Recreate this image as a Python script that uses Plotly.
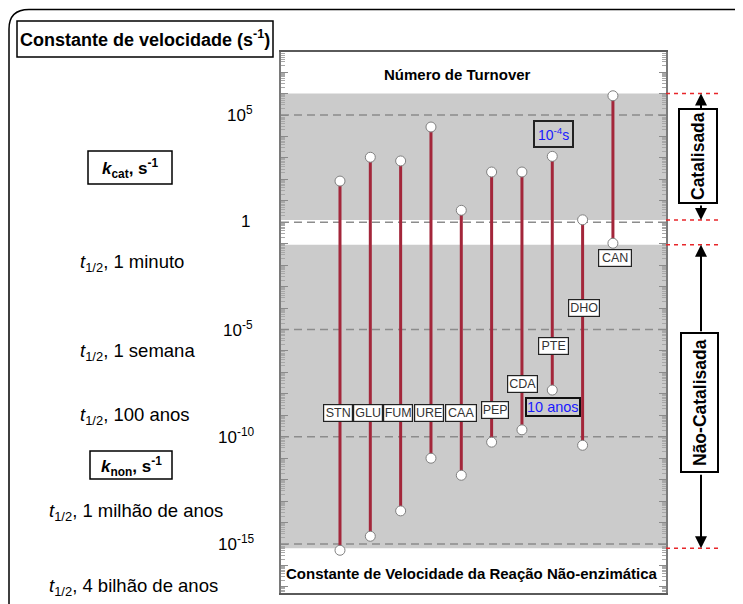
import math
import plotly.graph_objects as go

# ---------------- data ----------------
enzymes = ["STN", "GLU", "FUM", "URE", "CAA", "PEP", "CDA", "PTE", "DHO", "CAN"]
kcat = [83, 1070, 720, 27500, 3.6, 220, 220, 1180, 1.3, 7.9e5]          # s^-1
knon = [5.1e-16, 2.3e-15, 3.5e-14, 1.0e-11, 1.6e-12, 5.6e-11, 2.1e-10,
        1.5e-8, 4.0e-11, 0.105]                                           # s^-1
band_edges = [1.0e6, 1.26, 0.089, 6.3e-16]   # catalysed band top/bottom, uncatalysed top/bottom
tick_vals = [1e5, 1, 1e-5, 1e-10, 1e-15]
tick_text = ["10<sup>5</sup>", "1", "10<sup>-5</sup>", "10<sup>-10</sup>", "10<sup>-15</sup>"]
halflife_text = ["<i>t</i><sub>1/2</sub>, 1 minuto", "<i>t</i><sub>1/2</sub>, 1 semana",
                 "<i>t</i><sub>1/2</sub>, 100 anos", "<i>t</i><sub>1/2</sub>, 1 milhão de anos",
                 "<i>t</i><sub>1/2</sub>, 4 bilhão de anos"]

# ---------------- layout helpers ----------------
W, H = 743, 604
OFF = 8                     # page body margin of the html page
L, R, T, B = 281, 666, 52, 593   # plot area on screen
FONT = "Liberation Sans, Arial, Helvetica, sans-serif"


def px(x):
    return (x - L) / (R - L)


def py(y):
    return (B - y) / (B - T)


fig = go.Figure()

# bars (lines from knon to kcat)
bx, by = [], []
for e, lo, hi in zip(enzymes, knon, kcat):
    bx += [e, e, None]
    by += [lo, hi, None]
fig.add_trace(go.Scatter(x=bx, y=by, mode="lines", line=dict(color="#a3263a", width=3),
                         hoverinfo="skip", showlegend=False))
fig.add_trace(go.Scatter(x=enzymes + enzymes, y=kcat + knon, mode="markers",
                         marker=dict(size=10, color="white", line=dict(color="#808080", width=1)),
                         showlegend=False))

shapes = []
# gray bands
shapes.append(dict(type="rect", xref="paper", yref="y", x0=0, x1=1, y0=band_edges[1], y1=band_edges[0],
                   fillcolor="#cbcbcb", line=dict(width=0), layer="below"))
shapes.append(dict(type="rect", xref="paper", yref="y", x0=0, x1=1, y0=band_edges[3], y1=band_edges[2],
                   fillcolor="#cbcbcb", line=dict(width=0), layer="below"))
# dashed decade gridlines
for v in tick_vals:
    shapes.append(dict(type="line", xref="paper", yref="y", x0=0, x1=1, y0=v, y1=v,
                       line=dict(color="#8c8c8c", width=1.3, dash="8px,5px"), layer="below"))
# red dotted markers on the right
for v in band_edges:
    shapes.append(dict(type="line", xref="paper", yref="y", x0=1, x1=px(720), y0=v, y1=v,
                       line=dict(color="#e8262a", width=1.5, dash="4px,4px")))
# outer rounded frame
fx, fy = px(9), py(9.5)
shapes.append(dict(type="path", xref="paper", yref="paper",
                   path=f"M {fx},{py(620)} L {fx},{py(29)} Q {fx},{fy} {px(29)},{fy} L {px(760)},{fy}",
                   line=dict(color="black", width=1.5)))
# boxes on the left
for (x0, x1, y0, y1) in [(17, 273, 21, 57), (88, 172, 151, 184), (90, 172, 451, 479)]:
    shapes.append(dict(type="rect", xref="paper", yref="paper", x0=px(x0), x1=px(x1), y0=py(y1), y1=py(y0),
                       line=dict(color="black", width=1.5), fillcolor="white"))
# boxes on the right
for (x0, x1, y0, y1) in [(679, 717, 109, 203), (681, 718, 333, 472)]:
    shapes.append(dict(type="rect", xref="paper", yref="paper", x0=px(x0), x1=px(x1), y0=py(y1), y1=py(y0),
                       line=dict(color="black", width=2), fillcolor="white"))

ann = []


def ptext(x, y, text, size, xanchor="center", **kw):
    ann.append(dict(xref="paper", yref="paper", x=px(x), y=py(y), text=text, showarrow=False,
                    xanchor=xanchor, yanchor="middle", font=dict(size=size, color="black"), **kw))


# left boxed titles
ptext(145, 39, "<b>Constante de velocidade (s<sup>-1</sup>)</b>", 18)
ptext(130, 168, "<b><i>k</i><sub>cat</sub>, s<sup>-1</sup></b>", 17)
ptext(131, 466, "<b><i>k</i><sub>non</sub>, s<sup>-1</sup></b>", 17)
# tick labels
tick_cx = [240, 245, 238, 236, 236]
for v, t, cx in zip(tick_vals, tick_text, tick_cx):
    ann.append(dict(xref="paper", yref="y", x=px(cx), y=math.log10(v), text=t, showarrow=False,
                    xanchor="center", yanchor="middle", font=dict(size=17, color="black"), yshift=1))
# half-life labels
hl_pos = [(78, 263), (78, 352), (78, 416), (47, 512), (47, 587)]
for t, (x, y) in zip(halflife_text, hl_pos):
    ptext(x, y, t, 18.5, xanchor="left")
# panel titles
ptext(457, 75, "<b>Número de Turnover</b>", 15)
ptext(472, 573, "<b>Constante de Velocidade da Reação Não-enzimática</b>", 15)
# right side labels
ptext(698, 156, "<b>Catalisada</b>", 17.5, textangle=-90)
ptext(699.5, 402.5, "<b>Não-Catalisada</b>", 17.5, textangle=-90)

# enzyme label boxes
lab_logy = [-8.9, -8.9, -8.9, -8.9, -8.9, -8.77, -7.53, -5.76, -3.98, -1.66]
lab_shift = [-2, -2, -3, -2, 0, 3, 1, 1, 1, 2]
lab_w = [26, 26, 26, 26, 28, 24, 27, 27, 28, 30]
for e, ly, sh, w in zip(enzymes, lab_logy, lab_shift, lab_w):
    ann.append(dict(x=e, y=ly, xref="x", yref="y", text=e, showarrow=False, xshift=sh, width=w,
                    xanchor="center", yanchor="middle",
                    font=dict(size=12.5, color="#333"), bgcolor="white", bordercolor="#222",
                    borderwidth=1.2, borderpad=1))
# blue notes
ann.append(dict(x="PTE", y=4.1, xref="x", yref="y", text="10<sup>-4</sup>s", showarrow=False, xshift=1,
                xanchor="center", yanchor="middle",
                font=dict(size=14, color="#1a1aff"), bordercolor="#222", borderwidth=2, borderpad=3))
ann.append(dict(x="PTE", y=-8.62, xref="x", yref="y", text="10 anos", showarrow=False, xshift=1,
                xanchor="center", yanchor="middle",
                font=dict(size=14.5, color="#1a1aff"), bordercolor="#111", borderwidth=2, borderpad=0))
# arrows
for v, ay in [(band_edges[0], 16), (band_edges[1], -16), (band_edges[2], 88), (band_edges[3], -75)]:
    ann.append(dict(xref="paper", yref="y", x=px(701), y=math.log10(v), ax=0, ay=ay, text="",
                    showarrow=True, arrowhead=2, arrowsize=1.2, arrowwidth=2, arrowcolor="black",
                    standoff=0, startstandoff=0))

fig.update_layout(
    width=W, height=H,
    margin=dict(l=L - OFF, r=W + OFF - R, t=T - OFF, b=H + OFF - B, pad=0),
    paper_bgcolor="white", plot_bgcolor="white",
    font=dict(family=FONT),
    shapes=shapes, annotations=ann,
    showlegend=False,
    xaxis=dict(type="category", range=[-1.945, 10.75], showgrid=False, zeroline=False,
               showticklabels=False, ticks="", showline=True, mirror=True,
               linecolor="#5a5a5a", linewidth=2, fixedrange=True),
    yaxis=dict(type="log", range=[-17.284, 7.937], showgrid=False, zeroline=False,
               showticklabels=False, ticks="inside", ticklen=7, tickcolor="#8a8a8a", tickwidth=1,
               dtick=1, showline=True, mirror="ticks", linecolor="#7a7a7a", linewidth=2,
               minor=dict(ticks="inside", ticklen=4, tickcolor="#a8a8a8", dtick="D1", showgrid=False),
               fixedrange=True),
)

fig.write_html("out.html")
